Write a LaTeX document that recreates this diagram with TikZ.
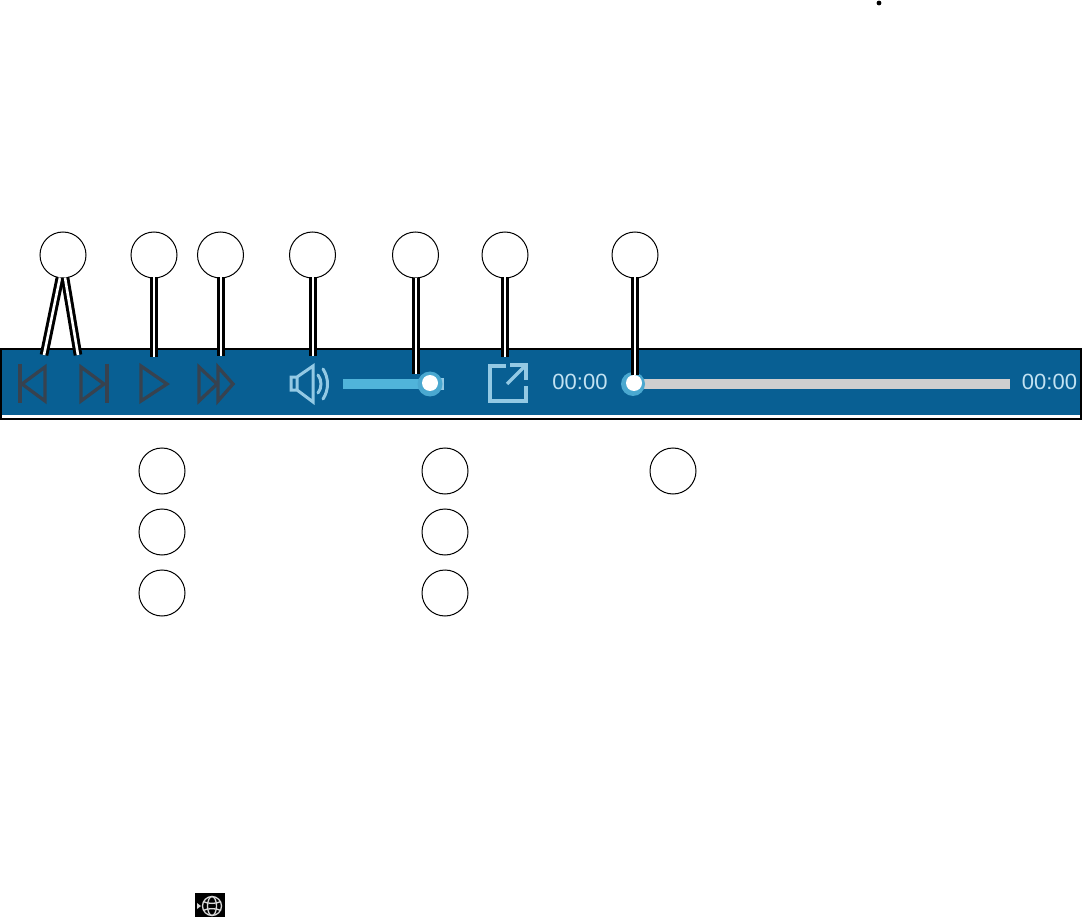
\documentclass[tikz,border=0pt]{standalone}
\usepackage{fontspec}
\setmainfont{Liberation Sans}
\definecolor{barblue}{HTML}{085F93}
\definecolor{darkicon}{HTML}{37424F}
\definecolor{lightblue}{HTML}{93C9E4}
\definecolor{slider}{HTML}{50B4DA}
\definecolor{knobring}{HTML}{4AA8D0}
\definecolor{timetext}{HTML}{C2E2F2}
\definecolor{track}{HTML}{CFCFCF}
\tikzset{
  callout/.style={circle,draw=black,fill=white,line width=1pt,minimum size=46pt,inner sep=0pt},
  leader/.style={line width=3pt,double=white,double distance=2.6pt,line cap=butt},
  darkstroke/.style={draw=darkicon,line width=3.3pt,line join=miter},
  lightstroke/.style={draw=lightblue,line width=3pt},
  timelabel/.style={text=timetext,font=\fontsize{22pt}{24pt}\selectfont,inner sep=0pt,anchor=center}
}
\begin{document}
\begin{tikzpicture}[x=1pt,y=-1pt]
\useasboundingbox (0,0) rectangle (1082,917);
% toolbar frame
\fill[black] (0,348) rectangle (1082,420);
\fill[white] (2,415) rectangle (1080,418);
\fill[barblue] (2,350) rectangle (1080,415);
% transport icons
\draw[darkstroke] (20,364) -- (20,403);
\draw[darkstroke] (45,367) -- (45,401) -- (22,384) -- cycle;
\draw[darkstroke] (107,364) -- (107,403);
\draw[darkstroke] (81,367) -- (81,401) -- (104,384) -- cycle;
\draw[darkstroke] (141,366) -- (141,401) -- (167,384) -- cycle;
\draw[darkstroke] (199,367) -- (199,401) -- (217,384) -- cycle;
\draw[darkstroke] (218,367) -- (218,401) -- (233,384) -- cycle;
% speaker
\draw[lightstroke,line join=miter] (297,377) -- (291,377) -- (291,390) -- (297,390) -- (313,402) -- (313,366) -- (297,377) -- (297,390);
\draw[lightstroke,line cap=round] (318,375) .. controls (322,380) and (322,388) .. (318,393);
\draw[lightstroke,line cap=round] (323,369) .. controls (329,378) and (329,390) .. (323,399);
% volume slider
\fill[slider] (343,379) rectangle (430,389);
\fill[lightblue] (438,378) rectangle (444,390);
\fill[knobring] (430,384) circle (12.5);
\fill[white] (430,383) circle (8);
% export icon
\draw[lightstroke,line width=3.4pt,line join=miter] (506,366) -- (490,366) -- (490,401) -- (526,401) -- (526,386);
\draw[lightstroke,line width=3.4pt,line join=miter] (510,365) -- (526,365) -- (526,380);
\draw[lightstroke,line width=3.4pt] (507,384) -- (525,366);
% times and progress
\node[timelabel] (t1) at (580,382) {00:00};
\node[timelabel] (t2) at (1049.5,382) {00:00};
\fill[track] (633,379) rectangle (1010,389);
\fill[knobring] (633,384) circle (12);
\fill[white] (634,383) circle (8);
% callouts
\node[callout] (c1) at (63,255) {};
\node[callout] (c2) at (154,255) {};
\node[callout] (c3) at (220.5,255) {};
\node[callout] (c4) at (312.5,255) {};
\node[callout] (c5) at (415.5,255) {};
\node[callout] (c6) at (505,255) {};
\node[callout] (c7) at (635,255) {};
\node[callout] (d1) at (162,471) {};
\node[callout] (d2) at (445,471) {};
\node[callout] (d3) at (673,471) {};
\node[callout] (d4) at (162,532) {};
\node[callout] (d5) at (445,532) {};
\node[callout] (d6) at (162,593) {};
\node[callout] (d7) at (445,593) {};
% leader ends
\coordinate (e1a) at (44,355);
\coordinate (e1b) at (78,355);
\coordinate (e2) at (154,357);
\coordinate (e3) at (221,356);
\coordinate (e4) at (313,356);
\coordinate (e5) at (416,374);
\coordinate (e6) at (505,357);
\coordinate (e7) at (635,375);
\draw[leader] ([xshift=-3pt,yshift=1pt]c1.south) -- (e1a);
\draw[leader] ([xshift=2pt,yshift=1pt]c1.south) -- (e1b);
\draw[leader] ([xshift=0pt,yshift=1pt]c2.south) -- (e2);
\draw[leader] ([xshift=0.5pt,yshift=1pt]c3.south) -- (e3);
\draw[leader] ([xshift=0.5pt,yshift=1pt]c4.south) -- (e4);
\draw[leader] ([xshift=0.5pt,yshift=0pt]c5.south) -- (e5);
\draw[leader] ([yshift=1pt]c6.south) -- (e6);
\draw[leader] ([yshift=1pt]c7.south) -- (e7);
% stray bullet
\fill[black] (879,3) circle (2.4);
% globe icon
\fill[black] (195,893) rectangle (225,917);
\fill[white!85!black] (197,903) -- (201,906) -- (197,909) -- cycle;
\begin{scope}[draw=white!85!black,line width=1.3pt]
\draw (212,906) circle (9.5);
\draw (212,906) ellipse (4.5 and 9.5);
\draw (203,901.5) .. controls (208,904) and (216,904) .. (221,901.5);
\draw (203,910.5) .. controls (208,908) and (216,908) .. (221,910.5);
\end{scope}
\end{tikzpicture}
\end{document}
